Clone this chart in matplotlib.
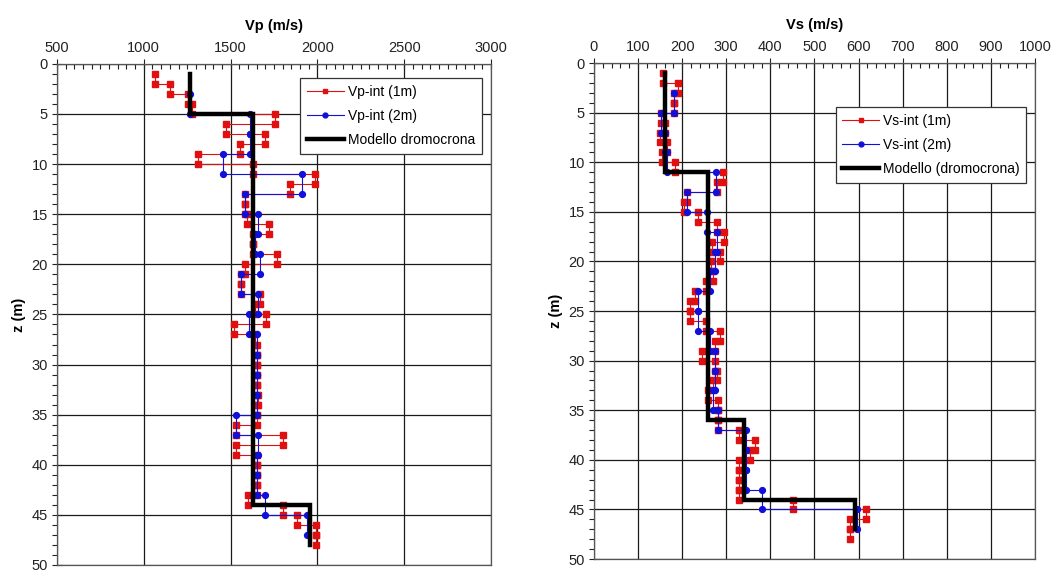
#!/usr/bin/python3
# -*- coding: utf-8 -*-

import matplotlib
matplotlib.use("Agg")
import matplotlib.pyplot as plt
from matplotlib.ticker import MultipleLocator

plt.rcParams['font.family'] = ['Liberation Sans', 'DejaVu Sans']

# Velocità intervallari ogni 1 m (da z=1 a z=48) e ogni 2 m (da z=3 a z=47)
prof_1m = list(range(1, 49))
prof_2m = list(range(3, 48, 2))

vp_1m = [1066, 1152, 1254, 1279, 1754, 1475, 1696, 1552, 1311, 1627,
         1984, 1840, 1585, 1585, 1596, 1721, 1627, 1627, 1769, 1585,
         1562, 1562, 1667, 1640, 1702, 1522, 1640, 1650, 1650, 1650,
         1650, 1650, 1655, 1650, 1650, 1531, 1804, 1531, 1650, 1650,
         1650, 1650, 1602, 1804, 1881, 1992, 1992]
vp_2m = [1266, 1612, 1612, 1458, 1910, 1585, 1660, 1640, 1669, 1562, 1660,
         1606, 1650, 1650, 1650, 1650, 1531, 1660, 1650, 1650, 1698, 1938]

vs_1m = [157, 191, 181, 181, 153, 160, 150, 165, 155, 184,
         292, 280, 212, 205, 237, 278, 295, 267, 285, 265,
         270, 255, 229, 218, 218, 254, 286, 274, 244, 274,
         280, 270, 259, 282, 282, 282, 330, 365, 354, 330,
         330, 330, 330, 451, 617, 580, 580]
vs_2m = [181, 153, 160, 165, 277, 212, 256, 278, 274, 262, 236,
         236, 263, 274, 274, 270, 282, 345, 345, 345, 380, 596]

# Modello da dromocrone: limiti degli strati e velocità
mod_vp_z = [1, 5, 44, 48]
mod_vp = [1266, 1630, 1960]
mod_vs_z = [1, 11, 36, 44, 47]
mod_vs = [161, 258, 341, 593]

ROSSO = '#e01010'
BLU = '#1010d8'


def gradini(limiti, valori):
    """Trasforma valori per intervallo in una spezzata a gradini (x, z)"""
    xs = []
    zs = []
    for i, v in enumerate(valori):
        xs += [v, v]
        zs += [limiti[i], limiti[i + 1]]
    return xs, zs


def pannello(ax, v1, v2, mod_z, mod_v, xmin, xmax, passo, minore,
             titolo, nomi, pos_leg):
    x, z = gradini(prof_1m, v1)
    ax.plot(x, z, color=ROSSO, lw=0.8, marker='s', ms=4.2, mec=ROSSO,
            label=nomi[0], zorder=3)
    x, z = gradini(prof_2m, v2)
    ax.plot(x, z, color=BLU, lw=0.8, marker='o', ms=4.2, mec=BLU,
            label=nomi[1], zorder=4)
    x, z = gradini(mod_z, mod_v)
    ax.plot(x, z, color='black', lw=3.2, solid_joinstyle='miter',
            label=nomi[2], zorder=5)

    ax.set_xlim(xmin, xmax)
    ax.set_ylim(50, 0)
    ax.xaxis.set_major_locator(MultipleLocator(passo))
    ax.xaxis.set_minor_locator(MultipleLocator(minore))
    ax.yaxis.set_major_locator(MultipleLocator(5))
    ax.yaxis.set_minor_locator(MultipleLocator(1))
    ax.xaxis.tick_top()
    ax.xaxis.set_label_position('top')
    ax.tick_params(which='major', direction='inout', length=7, width=0.8,
                   labelsize=10.5, colors='#222222', pad=3)
    ax.tick_params(axis='x', which='minor', direction='in', length=3.5,
                   width=0.8, color='#222222')
    ax.tick_params(axis='y', which='minor', direction='out', length=3.5,
                   width=0.8, color='#222222')
    ax.grid(True, which='major', color='#1a1a1a', lw=0.9)
    ax.set_axisbelow(True)
    for sp in ax.spines.values():
        sp.set_color('#555555')
        sp.set_linewidth(0.9)
    ax.set_xlabel(titolo, fontsize=10.5, fontweight='bold', labelpad=8)
    ax.set_ylabel('z (m)', fontsize=10.5, fontweight='bold', labelpad=4)

    leg = ax.legend(loc='upper left', bbox_to_anchor=pos_leg, fontsize=10,
                    handlelength=2.6, handletextpad=0.3, borderpad=0.5,
                    labelspacing=0.7, fancybox=False, framealpha=1,
                    edgecolor='#333333')
    leg.get_frame().set_linewidth(0.9)
    for h in leg.get_lines()[:2]:
        h.set_markersize(3.5)


fig = plt.figure(figsize=(10.52, 5.74), dpi=100)
ax1 = fig.add_axes([0.0542, 0.0157, 0.4125, 0.873])
ax2 = fig.add_axes([0.5646, 0.0261, 0.4192, 0.864])

pannello(ax1, vp_1m, vp_2m, mod_vp_z, mod_vp, 500, 3000, 500, 50,
         'Vp (m/s)', ['Vp-int (1m)', 'Vp-int (2m)', 'Modello dromocrona'],
         (0.545, 0.985))
pannello(ax2, vs_1m, vs_2m, mod_vs_z, mod_vs, 0, 1000, 100, 20,
         'Vs (m/s)', ['Vs-int (1m)', 'Vs-int (2m)', 'Modello (dromocrona)'],
         (0.532, 0.925))

fig.savefig('out.png', dpi=100)
